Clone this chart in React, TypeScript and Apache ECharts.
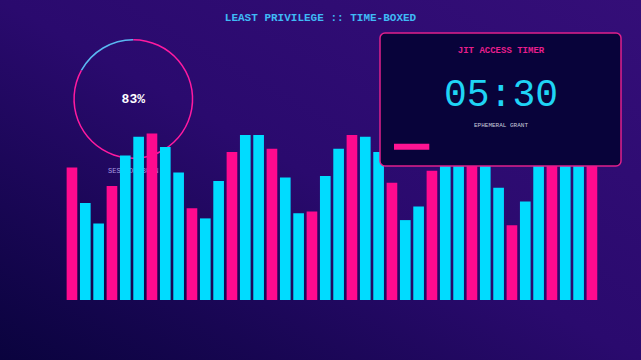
import React, { useEffect, useRef } from "react";
import * as echarts from "echarts";

const categories = [
  "01", "02", "03", "04", "05", "06", "07", "08", "09", "10",
  "11", "12", "13", "14", "15", "16", "17", "18", "19", "20",
  "21", "22", "23", "24", "25", "26", "27", "28", "29", "30",
  "31", "32", "33", "34", "35", "36", "37", "38", "39", "40",
];
const burnValues = [
  78, 57, 45, 67, 85, 96, 98, 90, 75, 54,
  48, 70, 87, 97, 97, 89, 72, 51, 52, 73,
  89, 97, 96, 87, 69, 47, 55, 76, 90, 95,
  93, 85, 66, 44, 58, 82, 91, 97, 95, 88,
];
const gaugeValue = 83;
const gaugeLabel = "SESSION BURN";
const titleText = "LEAST PRIVILEGE :: TIME-BOXED";
const panelTitle = "JIT ACCESS TIMER";
const timerText = "05:30";
const panelSub = "EPHEMERAL GRANT";

const PINK = "#ff0a8e";
const CYAN = "#00dcff";

export default function App() {
  const ref = useRef<HTMLDivElement>(null);
  useEffect(() => {
    if (!ref.current) return;
    const chart = echarts.init(ref.current, undefined, { renderer: "svg" });
    chart.setOption({
      animation: false,
      backgroundColor: new echarts.graphic.LinearGradient(0, 1, 1, 0, [
        { offset: 0, color: "#0a033e" },
        { offset: 0.5, color: "#2a0a6e" },
        { offset: 1, color: "#340e78" },
      ]),
      title: {
        text: titleText,
        left: "center",
        top: 7,
        textStyle: {
          fontFamily: "Liberation Mono",
          fontWeight: "bold",
          fontSize: 11,
          color: "#3fbaf5",
        },
      },
      grid: { left: 65.3, right: 42.4, top: 130, bottom: 60 },
      xAxis: {
        type: "category",
        data: categories,
        show: false,
        boundaryGap: true,
      },
      yAxis: { type: "value", min: 0, max: 100, show: false },
      series: [
        {
          type: "gauge",
          z: 1,
          center: [133.3, 99],
          radius: 60,
          startAngle: 90,
          endAngle: -270,
          min: 0,
          max: 100,
          pointer: { show: false },
          axisTick: { show: false },
          splitLine: { show: false },
          axisLabel: { show: false },
          axisLine: {
            lineStyle: {
              width: 1.5,
              color: [
                [gaugeValue / 100, "#ff1aa0"],
                [1, "#5ab8f2"],
              ],
            },
          },
          title: {
            offsetCenter: [0, "120%"],
            fontFamily: "Liberation Mono",
            fontSize: 7,
            color: "#a99be0",
          },
          detail: {
            offsetCenter: [0, 0],
            formatter: "{value}%",
            fontFamily: "Liberation Mono",
            fontWeight: "bold",
            fontSize: 13,
            color: "#ffffff",
          },
          data: [{ value: gaugeValue, name: gaugeLabel }],
        },
        {
          type: "bar",
          z: 2,
          barCategoryGap: "20%",
          data: burnValues.map((v, i) => ({
            value: v,
            itemStyle: { color: i % 3 === 0 ? PINK : CYAN },
          })),
        },
      ],
      graphic: [
        {
          type: "group",
          z: 100,
          children: [
            {
              type: "rect",
              z: 100,
              shape: { x: 380, y: 33, width: 241, height: 133, r: 5 },
              style: { fill: "#08033a", stroke: "#e0208c", lineWidth: 1.5 },
            },
            {
              type: "text",
              z: 101,
              x: 501,
              y: 51,
              style: {
                text: panelTitle,
                fill: "#e91e8c",
                font: "bold 9px 'Liberation Mono'",
                textAlign: "center",
                textVerticalAlign: "middle",
              },
            },
            {
              type: "text",
              z: 101,
              x: 501,
              y: 95,
              style: {
                text: timerText,
                fill: "#1fd4f5",
                font: "38px 'Liberation Mono'",
                textAlign: "center",
                textVerticalAlign: "middle",
              },
            },
            {
              type: "text",
              z: 101,
              x: 501,
              y: 125,
              style: {
                text: panelSub,
                fill: "#c9c9dc",
                font: "6px 'Liberation Mono'",
                textAlign: "center",
                textVerticalAlign: "middle",
              },
            },
            {
              type: "rect",
              z: 101,
              shape: { x: 394, y: 143.7, width: 35.3, height: 6 },
              style: { fill: "#ff1493" },
            },
          ],
        },
      ],
    });
    return () => chart.dispose();
  }, []);
  return (
    <div
      ref={ref}
      style={{ position: "fixed", left: 0, top: 0, width: 641, height: 360 }}
    />
  );
}
